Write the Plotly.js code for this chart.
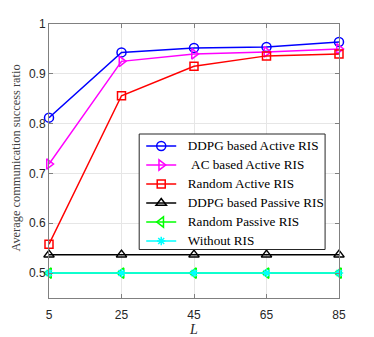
<!DOCTYPE html>
<html><head><meta charset="utf-8">
<script src="https://cdn.plot.ly/plotly-3.0.1.min.js"></script>
<style>body{margin:0;background:#fff}#c{width:374px;height:337px}</style>
</head><body><div id="c"></div>
<script>
const L = [5, 25, 45, 65, 85];
const ddpgActive = [0.812, 0.943, 0.952, 0.954, 0.964];
const acActive = [0.719, 0.925, 0.940, 0.944, 0.950];
const randomActive = [0.558, 0.856, 0.915, 0.936, 0.940];
const ddpgPassive = [0.537, 0.537, 0.537, 0.537, 0.537];
const randomPassive = [0.500, 0.500, 0.500, 0.500, 0.500];
const withoutRIS = [0.500, 0.500, 0.500, 0.500, 0.500];
const names = ['DDPG based Active RIS', ' AC based Active RIS', 'Random Active RIS', 'DDPG based Passive RIS', 'Random Passive RIS', 'Without RIS'];
const yTicks = [0.5, 0.6, 0.7, 0.8, 0.9, 1];
const yTickText = ['0.5', '0.6', '0.7', '0.8', '0.9', '1'];
const series = [ddpgActive, acActive, randomActive, ddpgPassive, randomPassive, withoutRIS];
const colors = ['#0000ff', '#ff00ff', '#ff0000', '#000000', '#00ff00', '#00ffff'];
const symbols = ['circle-open', 'triangle-right-open', 'square-open', 'triangle-up-open', 'triangle-left-open', 'asterisk-open'];
const sizes = [9, 9, 8, 9, 9, 7];
const traces = series.map((s, i) => ({
  x: L, y: s, type: 'scatter', mode: 'lines+markers',
  name: '<span style="font-size:13.2px">\u00A0\u00A0' + names[i].replace(/^ /, '\u00A0') + '</span>',
  line: {color: colors[i], width: 1.5},
  marker: {symbol: symbols[i], size: sizes[i], color: colors[i], line: {color: colors[i], width: 1.5}},
  cliponaxis: false
}));
const layout = {
  width: 374, height: 337,
  margin: {l: 49, r: 35, t: 24, b: 39},
  paper_bgcolor: '#fff', plot_bgcolor: '#fff',
  showlegend: true,
  legend: {x: 0.318, y: 0.6076, xanchor: 'left', yanchor: 'top',
    bgcolor: 'rgba(0,0,0,0)', borderwidth: 0,
    font: {family: 'Liberation Serif, Times New Roman, serif', size: 11, color: '#000'},
    tracegroupgap: 0, itemsizing: 'trace'},
  shapes: [{type: 'rect', xref: 'paper', yref: 'paper', x0: 0.311, x1: 0.952, y0: 0.177, y1: 0.5985,
    fillcolor: '#ffffff', line: {color: '#262626', width: 1}, layer: 'above'}],
  xaxis: {range: [5, 85], tickvals: L, ticktext: L.map(String),
    showgrid: true, gridcolor: '#e6e6e6', gridwidth: 1,
    showline: true, linecolor: '#808080', linewidth: 1, mirror: 'ticks',
    ticks: 'inside', ticklen: 4, tickcolor: '#808080', zeroline: false,
    ticklabelstandoff: 6,
    tickfont: {family: 'Liberation Sans, Arial, sans-serif', size: 12, color: '#262626'},
    title: {text: '<i>L</i>', standoff: 2, font: {family: 'Liberation Serif, Times New Roman, serif', size: 14, color: '#262626'}}},
  yaxis: {range: [0.45, 1], tickvals: yTicks, ticktext: yTickText,
    showgrid: true, gridcolor: '#e6e6e6', gridwidth: 1,
    showline: true, linecolor: '#808080', linewidth: 1, mirror: 'ticks',
    ticks: 'inside', ticklen: 4, tickcolor: '#808080', zeroline: false,
    tickfont: {family: 'Liberation Sans, Arial, sans-serif', size: 12, color: '#262626'}},
  annotations: [{text: 'Average communication success ratio', textangle: -90,
    xref: 'paper', yref: 'paper', x: -0.117, y: 0.509, xanchor: 'center', yanchor: 'middle',
    showarrow: false, font: {family: 'Liberation Serif, Times New Roman, serif', size: 12.4, color: '#404040'}}]
};
Plotly.newPlot('c', traces, layout, {displayModeBar: false, staticPlot: true});
</script></body></html>
